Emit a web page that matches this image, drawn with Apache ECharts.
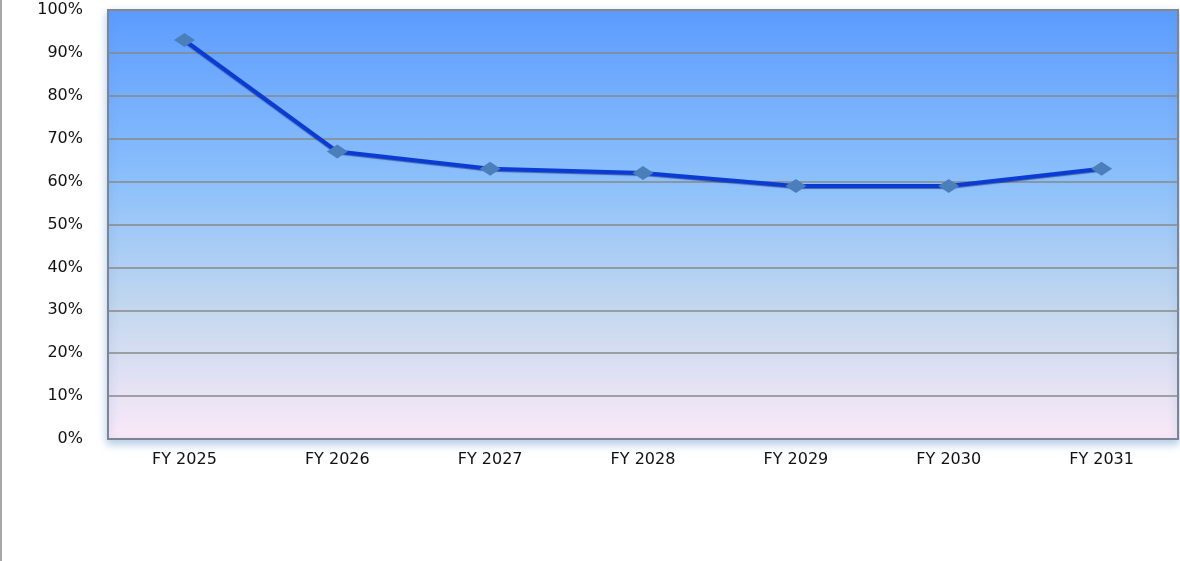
<!DOCTYPE html>
<html>
<head>
<meta charset="utf-8">
<script src="https://cdn.jsdelivr.net/npm/echarts@6/dist/echarts.min.js"></script>
<style>
    html, body { margin: 0; padding: 0; background: #fff; }
    #chart { width: 1180px; height: 561px; }
</style>
</head>
<body>
<div id="chart"></div>
<script>
// fiscal years and share values (fraction of 100%)
const years = ["FY 2025", "FY 2026", "FY 2027", "FY 2028", "FY 2029", "FY 2030", "FY 2031"];
const shareValues = [0.93, 0.67, 0.63, 0.62, 0.59, 0.59, 0.63];
const yTicks = [0, 0.1, 0.2, 0.3, 0.4, 0.5, 0.6, 0.7, 0.8, 0.9, 1];

const chart = echarts.init(document.getElementById("chart"));

const labelFont = {
    color: "#111",
    fontFamily: "DejaVu Sans",
    fontSize: 16
};

const option = {
    animation: false,
    backgroundColor: "#fff",
    graphic: [
        {
            type: "line",
            shape: { x1: 1, y1: 0, x2: 1, y2: 561 },
            style: { stroke: "#a6a6a6", lineWidth: 2 }
        }
    ],
    grid: {
        left: 108,
        right: 2,
        top: 10,
        bottom: 122,
        show: true,
        borderColor: "#7d8595",
        borderWidth: 2,
        backgroundColor: new echarts.graphic.LinearGradient(0, 0, 0, 1, [
            { offset: 0, color: "#5c9cff" },
            { offset: 0.4, color: "#8cc0fb" },
            { offset: 0.7, color: "#c4d8ee" },
            { offset: 1, color: "#fbe9f8" }
        ]),
        shadowColor: "rgba(90,140,200,0.45)",
        shadowBlur: 8,
        shadowOffsetY: 4
    },
    xAxis: {
        type: "category",
        data: years,
        boundaryGap: true,
        axisLine: { show: true, lineStyle: { color: "#7d8595", width: 2 } },
        axisTick: { show: false },
        axisLabel: Object.assign({ margin: 13 }, labelFont),
        splitLine: { show: false }
    },
    yAxis: {
        type: "value",
        min: yTicks[0],
        max: yTicks[yTicks.length - 1],
        interval: 0.1,
        axisLine: { show: true, lineStyle: { color: "#7d8595", width: 2 } },
        axisTick: { show: false },
        axisLabel: Object.assign({
            margin: 25,
            formatter: v => Math.round(v * 100) + "%"
        }, labelFont),
        splitLine: { show: true, lineStyle: { color: "#888888", width: 1.5 } }
    },
    series: [
        {
            name: "share",
            type: "line",
            data: shareValues,
            symbol: "diamond",
            symbolSize: [21, 14],
            itemStyle: { color: "#4a7fbb" },
            lineStyle: {
                color: "#0a3cd4",
                width: 4,
                shadowColor: "rgba(0,10,90,0.5)",
                shadowBlur: 1,
                shadowOffsetY: 1
            },
            z: 3
        }
    ]
};

chart.setOption(option);
</script>
</body>
</html>
